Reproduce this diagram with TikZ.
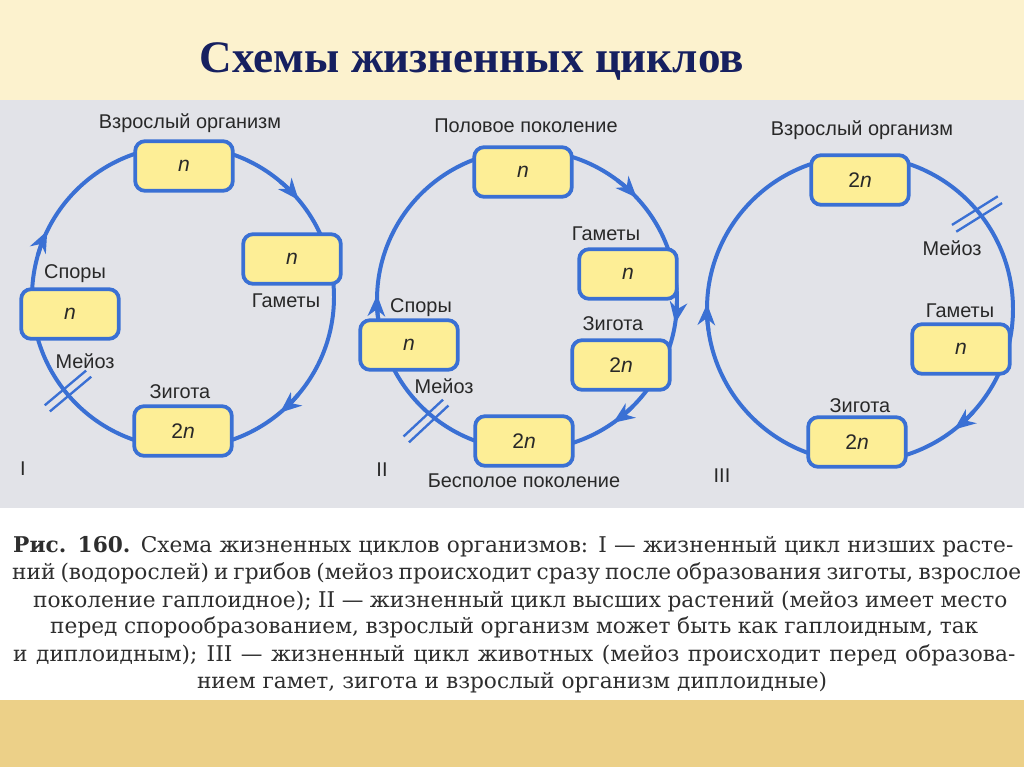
\documentclass[tikz,border=0pt]{standalone}
\usepackage{fontspec}
\setmainfont{Liberation Sans}
\newfontfamily\titlefont{Liberation Serif}
\newfontfamily\capfont{DejaVu Serif}
\usetikzlibrary{arrows.meta,calc}
\definecolor{cCyc}  {RGB}{ 58,112,212}
\definecolor{cBox}  {RGB}{253,238,150}
\definecolor{cTxt}  {RGB}{ 40, 40, 40}
\definecolor{cTitle}{RGB}{ 22, 32, 96}
\definecolor{cTop}  {RGB}{252,242,206}
\definecolor{cPanel}{RGB}{226,227,232}
\definecolor{cBot}  {RGB}{236,208,136}
\tikzset{
  cyc/.style   = {draw=cCyc, line width=3.4pt},
  tipc/.style  = {cCyc, line width=3.4pt,
                  -{Stealth[length=6.4mm,width=5.2mm,inset=2mm]}},
  meio/.style  = {draw=cCyc, line width=2pt},
  stage/.style = {draw=cCyc, fill=cBox, line width=3.2pt, rounded corners=3mm,
                  minimum width=29.3mm, minimum height=14.9mm, inner sep=0pt,
                  text=cTxt, font=\fontsize{18}{20}\selectfont},
  lbl/.style   = {text=cTxt, font=\fontsize{17}{19}\selectfont, inner sep=0pt,
                  anchor=base},
  ttl/.style   = {text=cTitle, font=\titlefont\bfseries\fontsize{38.5}{44}\selectfont,
                  inner sep=0pt, anchor=base},
  capl/.style  = {text=black!82, font=\capfont\fontsize{18.5}{22}\selectfont,
                  inner sep=0pt, anchor=base west},
}

\begin{document}
\begin{tikzpicture}[x=0.3mm, y=-0.3mm]
  \useasboundingbox (0,0) rectangle (1024,767);

  % ---- slide bands ---------------------------------------------------
  \fill[cTop]   (0,0)   rectangle (1024,100);
  \fill[cPanel] (0,100) rectangle (1024,508);
  \fill[white]  (0,508) rectangle (1024,700);
  \fill[cBot]   (0,700) rectangle (1024,767);

  \node[ttl] (title) at (472,72) {Схемы жизненных циклов};

  % ---- cycles (clockwise) --------------------------------------------
  \coordinate (cI)   at (183,297);
  \coordinate (cII)  at (527,300);
  \coordinate (cIII) at (860,309);
  \draw[cyc] (cI)   circle[radius=151];
  \draw[cyc] (cII)  circle[radius=150];
  \draw[cyc] (cIII) circle[radius=153];

  \foreach \a in {-40,50,206}
    \draw[tipc] (cI) ++(\a-10:151) arc[start angle=\a-10, end angle=\a, radius=151];
  \foreach \a in {-43,9,55,182}
    \draw[tipc] (cII) ++(\a-10:150) arc[start angle=\a-10, end angle=\a, radius=150];
  \foreach \a in {52,182}
    \draw[tipc] (cIII) ++(\a-10:153) arc[start angle=\a-10, end angle=\a, radius=153];

  % ---- meiosis marks -------------------------------------------------
  \coordinate (mI)   at (68,391);
  \coordinate (mII)  at (426,421);
  \coordinate (mIII) at (977,214);
  \foreach \m/\a in {mI/140, mII/137, mIII/-32}
    \foreach \s in {-4,4}
      \draw[meio] ($(\m)+(\a+90:\s)+(\a:-27)$) -- ($(\m)+(\a+90:\s)+(\a:27)$);

  % ---- I: lower plants and fungi -------------------------------------
  \node[stage] (adultI) at (184,166) {\textit{n}};
  \node[stage] (gamI)   at (292,259) {\textit{n}};
  \node[stage] (zygI)   at (183,431) {2\textit{n}};
  \node[stage] (sporI)  at (70,314)  {\textit{n}};
  \node[lbl] (adultIl) at (190,128) {Взрослый организм};
  \node[lbl] (gamIl)   at (286,307) {Гаметы};
  \node[lbl] (zygIl)   at (180,398) {Зигота};
  \node[lbl] (sporIl)  at (75,278)  {Споры};
  \node[lbl] (meioIl)  at (85,368)  {Мейоз};
  \node[lbl] (numI)    at (23,475)  {I};

  % ---- II: higher plants ---------------------------------------------
  \node[stage] (sexII)  at (523,172) {\textit{n}};
  \node[stage] (gamII)  at (628,274) {\textit{n}};
  \node[stage] (zygII)  at (621,365) {2\textit{n}};
  \node[stage] (asexII) at (524,441) {2\textit{n}};
  \node[stage] (sporII) at (409,345) {\textit{n}};
  \node[lbl] (sexIIl)  at (526,132) {Половое поколение};
  \node[lbl] (gamIIl)  at (606,240) {Гаметы};
  \node[lbl] (zygIIl)  at (613,330) {Зигота};
  \node[lbl] (asexIIl) at (524,487) {Бесполое поколение};
  \node[lbl] (sporIIl) at (421,312) {Споры};
  \node[lbl] (meioIIl) at (444,393) {Мейоз};
  \node[lbl] (numII)   at (382,476) {II};

  % ---- III: animals --------------------------------------------------
  \node[stage] (adultIII) at (860,180) {2\textit{n}};
  \node[stage] (gamIII)   at (961,349) {\textit{n}};
  \node[stage] (zygIII)   at (857,442) {2\textit{n}};
  \node[lbl] (adultIIIl) at (862,135) {Взрослый организм};
  \node[lbl] (meioIIIl)  at (952,255) {Мейоз};
  \node[lbl] (gamIIIl)   at (960,317) {Гаметы};
  \node[lbl] (zygIIIl)   at (860,412) {Зигота};
  \node[lbl] (numIII)    at (722,482) {III};

  % ---- caption -------------------------------------------------------
  \node[capl] (cap1) at (13,552) {\hbox to 853.6pt{\textbf{Рис. 160.} Схема
    жизненных циклов организмов: I — жизненный цикл низших расте-}};
  \node[capl] (cap2) at (12,579) {\hbox to 861.3pt{ний (водорослей) и грибов
    (мейоз происходит сразу после образования зиготы, взрослое}};
  \node[capl] (cap3) at (33,607) {\hbox to 831.4pt{поколение гаплоидное);
    II — жизненный цикл высших растений (мейоз имеет место}};
  \node[capl] (cap4) at (50,633) {\hbox to 792.1pt{перед спорообразованием,
    взрослый организм может быть как гаплоидным, так}};
  \node[capl] (cap5) at (13,661) {\hbox to 855.3pt{и диплоидным); III —
    жизненный цикл животных (мейоз происходит перед образова-}};
  \node[capl, anchor=base] (cap6) at (512,688) {нием гамет, зигота и взрослый
    организм диплоидные)};

\end{tikzpicture}
\end{document}
